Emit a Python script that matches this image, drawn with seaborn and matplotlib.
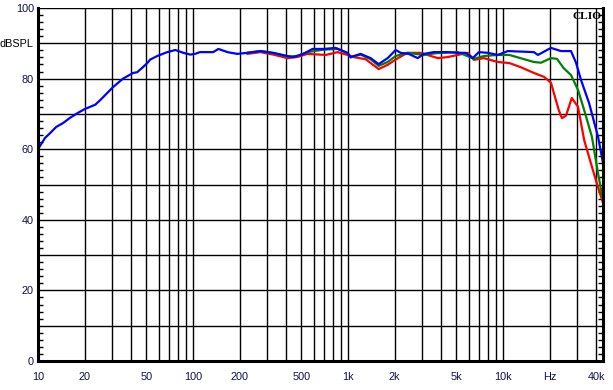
import numpy as np
import pandas as pd
import matplotlib
matplotlib.use("Agg")
import matplotlib.pyplot as plt
from matplotlib.ticker import FixedLocator, NullLocator, MultipleLocator
import seaborn as sns

# ---- data ----
freq_blue = [10, 11.1, 12, 13.1, 14.5, 16.1, 18.1, 20.1, 23.4, 25.2, 30.5, 35.4, 41.1, 43.6,
             47.7, 50.7, 53, 58.8, 68.2, 76.9, 86.6, 96, 103, 111, 135, 146, 167, 193, 224,
             272, 330, 407, 445, 516, 590, 696, 832, 994, 1040, 1206, 1400, 1577, 1803, 2032,
             2188, 2465, 2818, 3082, 3575, 4404, 5110, 5757, 6389, 6987, 7989, 9270, 10760,
             15840, 16810, 20400, 23670, 27480, 29600, 31890, 35920, 41070, 44200]
db_blue = [60, 63.2, 64.6, 66.3, 67.4, 68.9, 70.3, 71.4, 72.6, 73.9, 77.6, 80.0, 81.6, 81.8,
           83.3, 84.4, 85.4, 86.4, 87.5, 88.1, 87.3, 86.8, 87, 87.5, 87.5, 88.4, 87.5, 87, 87.3,
           87.8, 87.3, 86.4, 86.1, 87, 88.4, 88.4, 88.7, 87.3, 86.1, 87, 85.8, 84.1, 85.8, 88.1,
           87.3, 87, 85.8, 87, 87.5, 87.5, 87.3, 87.3, 85.8, 87.5, 87.3, 86.7, 87.8,
           87.5, 86.7, 88.7, 87.8, 87.8, 84.5, 79.6, 73.1, 63.5, 56.1]

freq_green = [224, 272, 330, 407, 470, 546, 696, 855, 994, 1040, 1206, 1400, 1577, 1803, 2032,
              2420, 3080, 3700, 5110, 6500, 7530, 9270, 11000, 15840, 17600, 20400, 22300,
              24600, 27480, 30500, 33400, 37500, 41000, 44200]
db_green = [87.3, 87.8, 87.2, 86.2, 86.4, 87.5, 88.2, 88.4, 87.2, 86.0, 86.8, 85.5, 83.6, 84.7,
            86.4, 87.3, 86.7, 87.2, 87.5, 85.6, 86.4, 86.7, 86.7, 84.7, 84.5, 85.8, 85.6,
            83.0, 81.0, 76.8, 71.1, 63.5, 53.3, 45.6]

freq_red = [224, 272, 330, 407, 470, 546, 720, 855, 994, 1110, 1300, 1577, 1803, 2100, 2420,
            2930, 3800, 4400, 5110, 5930, 6500, 7530, 9270, 11000, 12900, 15840, 18400, 20400,
            22900, 24000, 25500, 27800, 30500, 33400, 37500, 41000, 44200]
db_red = [87.0, 87.5, 86.8, 85.8, 86.1, 87.0, 86.7, 87.5, 86.7, 86.0, 85.5, 82.7, 83.9, 85.8,
          87.3, 87.3, 85.8, 86.1, 86.7, 87.3, 85.3, 85.8, 84.7, 84.4, 83.3, 81.6, 80.5, 78.8,
          71.1, 68.8, 69.5, 74.5, 72.0, 62.6, 55.0, 49.3, 44.8]

x_grid = [20, 30, 40, 50, 60, 70, 80, 90, 100, 200, 300, 400, 500, 600, 700, 800, 900,
          1000, 2000, 3000, 4000, 5000, 6000, 7000, 8000, 9000, 10000, 20000, 30000, 40000]
x_labels = {10: "10", 20: "20", 50: "50", 100: "100", 200: "200", 500: "500", 1000: "1k",
            2000: "2k", 5000: "5k", 10000: "10k", 20000: "Hz", 40000: "40k"}
y_ticks = [0, 10, 20, 30, 40, 50, 60, 70, 80, 90, 100]
y_labels = ["0", "", "20", "", "40", "", "60", "", "80", "dBSPL", "100"]

df = pd.concat([
    pd.DataFrame({"f": freq_red, "db": db_red, "s": "red"}),
    pd.DataFrame({"f": freq_green, "db": db_green, "s": "green"}),
    pd.DataFrame({"f": freq_blue, "db": db_blue, "s": "blue"}),
], ignore_index=True)

sns.set_style("white")
plt.rcParams["font.family"] = ["Liberation Sans", "DejaVu Sans"]

fig = plt.figure(figsize=(6.13, 3.90), dpi=100)
ax = fig.add_axes([38 / 613, 29 / 390, 565 / 613, 353 / 390])

sns.lineplot(data=df, x="f", y="db", hue="s", hue_order=["red", "green", "blue"],
             palette={"red": "#ff0000", "green": "#008000", "blue": "#0000ff"},
             linewidth=1.6, legend=False, ax=ax, sort=False, estimator=None)

ax.set_xscale("log")
ax.set_xlim(10, 44200)
ax.set_ylim(0, 100)

# grid lines
for xv in x_grid:
    ax.axvline(xv, color="black", lw=1.0, zorder=0.5)
for yv in y_ticks[1:]:
    ax.axhline(yv, color="black", lw=1.0, zorder=0.5)

# ticks
ax.xaxis.set_major_locator(FixedLocator(list(x_labels.keys())))
ax.set_xticklabels(list(x_labels.values()))
ax.xaxis.set_minor_locator(NullLocator())
ax.tick_params(axis="x", which="both", length=0, pad=8, labelsize=7.8, labelcolor="#10104a")

ax.yaxis.set_major_locator(FixedLocator(y_ticks))
ax.set_yticklabels(y_labels)
ax.yaxis.set_minor_locator(MultipleLocator(2))
ax.tick_params(axis="y", which="major", length=0, pad=3, labelsize=7.8, labelcolor="#10104a")
ax.tick_params(axis="y", which="minor", direction="in", length=3.5, width=1.0,
               left=True, right=True, color="black")
for lbl in ax.get_yticklabels():
    if lbl.get_text() == "dBSPL":
        lbl.set_color("black")

ax.set_xlabel("")
ax.set_ylabel("")

for side in ["left", "bottom", "right"]:
    ax.spines[side].set_visible(True)
    ax.spines[side].set_color("black")
    ax.spines[side].set_linewidth(2.2)
ax.spines["top"].set_visible(False)

ax.text(0.9965, 0.99, "CLIO", transform=ax.transAxes, ha="right", va="top",
        fontsize=8.2, fontweight="bold", family=["Liberation Serif", "DejaVu Serif"],
        color="black")

fig.savefig("out.png", dpi=100)
